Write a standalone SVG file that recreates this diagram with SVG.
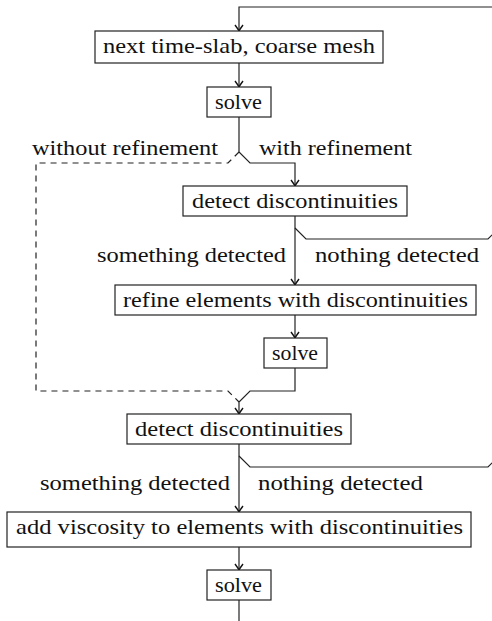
<svg xmlns="http://www.w3.org/2000/svg" width="492" height="621" viewBox="0 0 492 621">
<style>
.box{fill:#fff;stroke:#222;stroke-width:1.2}
text{font-size:21px;fill:#111}
.ln{fill:none;stroke:#222;stroke-width:1.2;stroke-linejoin:miter}
.ds{fill:none;stroke:#222;stroke-width:1.2;stroke-dasharray:6,5}
</style>
<defs>
<marker id="ar" viewBox="-7 -5 9 10" refX="0" refY="0" markerWidth="9" markerHeight="10" markerUnits="userSpaceOnUse" orient="auto">
<path d="M-6,-4 Q-2,-1 0,0 Q-2,1 -6,4" fill="none" stroke="#111" stroke-width="1.4"/>
</marker>
</defs>
<g id="connectors">
<path class="ln" d="M500,7 H239 V31" marker-end="url(#ar)"/>
<path class="ln" d="M239,63 V87" marker-end="url(#ar)"/>
<path class="ln" d="M239,117 V152 L250,163 H295 V186" marker-end="url(#ar)"/>
<path class="ds" d="M239,152 L228,163 H36 V391 H228 L239,402"/>
<path class="ln" d="M295,216 V285" marker-end="url(#ar)"/>
<path class="ln" d="M295,228 L306,239 H488 L500,227"/>
<path class="ln" d="M295,315 V338" marker-end="url(#ar)"/>
<path class="ln" d="M295,368 V391 H250 L239,402 V414" marker-end="url(#ar)"/>
<path class="ln" d="M239,444 V512" marker-end="url(#ar)"/>
<path class="ln" d="M239,456 L250,467 H488 L500,455"/>
<path class="ln" d="M239,547 V570" marker-end="url(#ar)"/>
<path class="ln" d="M239,600 V625"/>
</g>
<g font-family="Liberation Serif, DejaVu Serif, serif">
<g id="labels">
<text x="32" y="155" textLength="186" lengthAdjust="spacingAndGlyphs">without refinement</text>
<text x="259" y="155" textLength="153" lengthAdjust="spacingAndGlyphs">with refinement</text>
<text x="97" y="262" textLength="189" lengthAdjust="spacingAndGlyphs">something detected</text>
<text x="315" y="262" textLength="164" lengthAdjust="spacingAndGlyphs">nothing detected</text>
<text x="40" y="490" textLength="190" lengthAdjust="spacingAndGlyphs">something detected</text>
<text x="258" y="490" textLength="165" lengthAdjust="spacingAndGlyphs">nothing detected</text>
</g>
<g id="n1"><rect class="box" x="95" y="31" width="288" height="32"/><text x="103" y="53" textLength="272" lengthAdjust="spacingAndGlyphs">next time-slab, coarse mesh</text></g>
<g id="n2"><rect class="box" x="207" y="87" width="64" height="30"/><text x="215" y="109" textLength="47" lengthAdjust="spacingAndGlyphs">solve</text></g>
<g id="n3"><rect class="box" x="183" y="186" width="224" height="30"/><text x="192" y="208" textLength="206" lengthAdjust="spacingAndGlyphs">detect discontinuities</text></g>
<g id="n4"><rect class="box" x="115" y="285" width="361" height="30"/><text x="123" y="307" textLength="345" lengthAdjust="spacingAndGlyphs">refine elements with discontinuities</text></g>
<g id="n5"><rect class="box" x="264" y="338" width="63" height="30"/><text x="272" y="360" textLength="46" lengthAdjust="spacingAndGlyphs">solve</text></g>
<g id="n6"><rect class="box" x="127" y="414" width="224" height="30"/><text x="135" y="436" textLength="208" lengthAdjust="spacingAndGlyphs">detect discontinuities</text></g>
<g id="n7"><rect class="box" x="7" y="512" width="464" height="35"/><text x="16" y="534" textLength="447" lengthAdjust="spacingAndGlyphs">add viscosity to elements with discontinuities</text></g>
<g id="n8"><rect class="box" x="207" y="570" width="64" height="30"/><text x="215" y="592" textLength="47" lengthAdjust="spacingAndGlyphs">solve</text></g>
</g>
</svg>
